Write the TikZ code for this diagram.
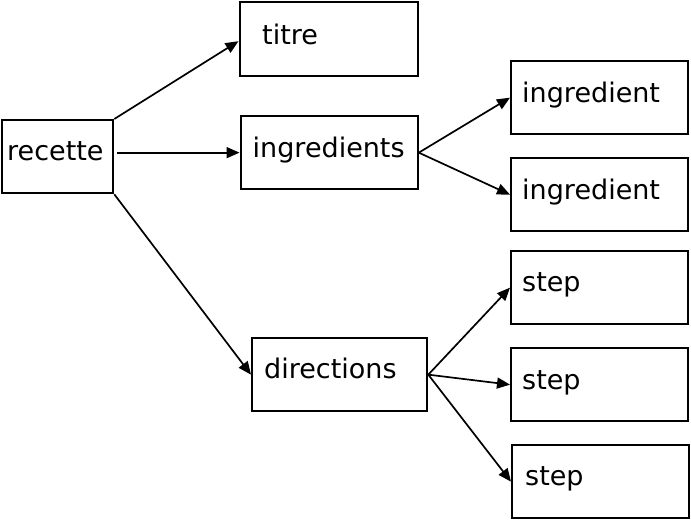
\documentclass[tikz,border=0pt]{standalone}
\usepackage{fontspec}
\setmainfont{DejaVu Sans}
\usetikzlibrary{arrows.meta}
\begin{document}
\begin{tikzpicture}[x=1pt,y=-1pt,
  box/.style={draw, line width=2.3pt, inner sep=0pt, anchor=north west, minimum height=73pt},
  lbl/.style={anchor=base west, inner sep=0pt, font=\fontsize{27}{30}\selectfont},
  arr/.style={line width=1.7pt, -{Triangle[length=13pt,width=11pt]}}]
\useasboundingbox (0,0) rectangle (691,520);
% boxes
\node[box, minimum width=111pt] (rec) at (1,119) {};
\node[box, minimum width=178pt, minimum height=74pt] (titre) at (238.5,1) {};
\node[box, minimum width=177pt] (ingr) at (239.5,115) {};
\node[box, minimum width=177pt] (ing1) at (510,60) {};
\node[box, minimum width=177pt] (ing2) at (510,157) {};
\node[box, minimum width=177pt] (s1) at (510,250) {};
\node[box, minimum width=177pt] (s2) at (510,347) {};
\node[box, minimum width=177pt] (s3) at (511,444) {};
\node[box, minimum width=175pt] (dir) at (251,337) {};
% labels
\node[lbl] (trec) at ([shift={(6,41.7)}]rec.north west) {recette};
\node[lbl] (ttitre) at ([shift={(23.5,43)}]titre.north west) {titre};
\node[lbl] (tingr) at ([shift={(13,42.3)}]ingr.north west) {ingredients};
\node[lbl] (ting1) at ([shift={(12,42.7)}]ing1.north west) {ingredient};
\node[lbl] (ting2) at ([shift={(12,42.3)}]ing2.north west) {ingredient};
\node[lbl] (ts1) at ([shift={(12,41.7)}]s1.north west) {step};
\node[lbl] (ts2) at ([shift={(12,42)}]s2.north west) {step};
\node[lbl] (ts3) at ([shift={(14,41.7)}]s3.north west) {step};
\node[lbl] (tdir) at ([shift={(13,41.3)}]dir.north west) {directions};
% connectors
\draw[arr] (rec.north east) -- ([yshift=-2pt]titre.west);
\draw[arr] ([xshift=3pt]rec.east |- ingr.west) -- (ingr.west);
\draw[arr] (rec.south east) -- (dir.west);
\draw[arr] (ingr.east) -- (ing1.west);
\draw[arr] (ingr.east) -- (ing2.west);
\draw[arr] (dir.east) -- (s1.west);
\draw[arr] (dir.east) -- (s2.west);
\draw[arr] (dir.east) -- (s3.west);
\end{tikzpicture}
\end{document}
